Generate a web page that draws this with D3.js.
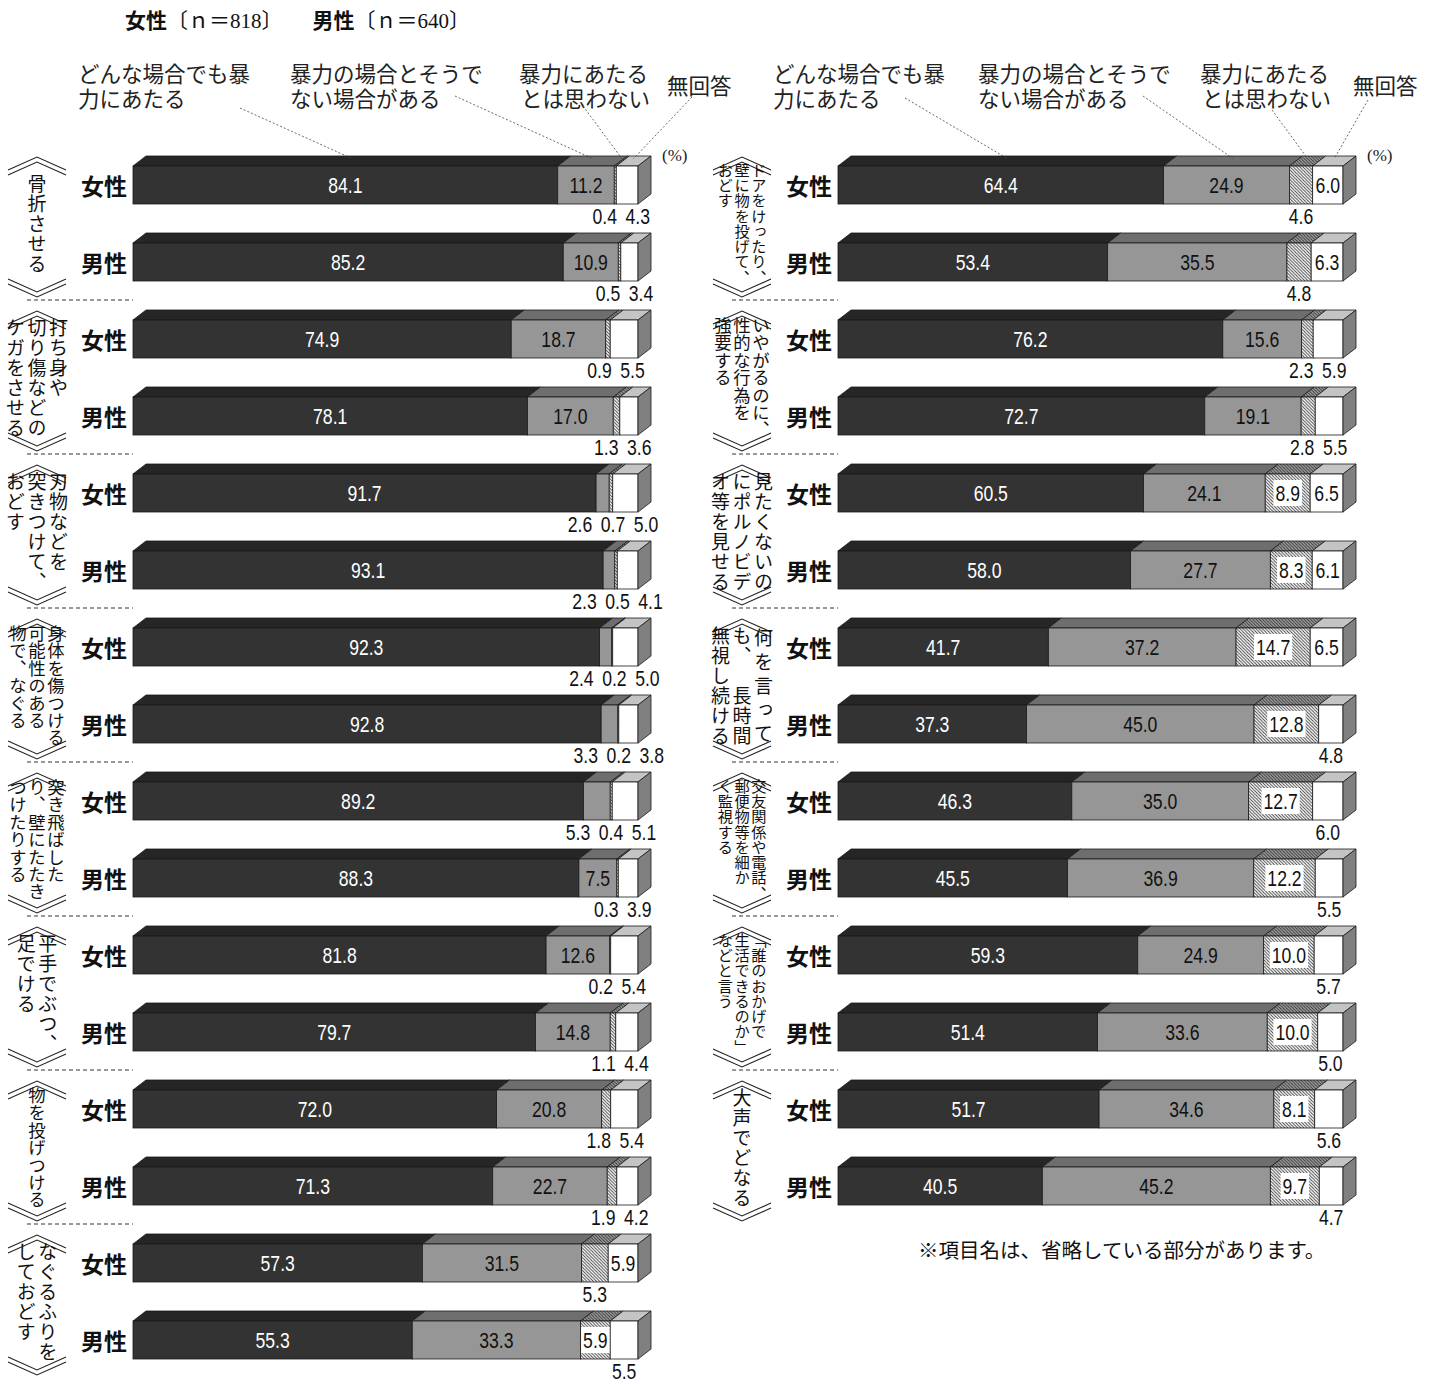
<!DOCTYPE html>
<html><head><meta charset="utf-8">
<script src="https://cdn.jsdelivr.net/npm/d3@7/dist/d3.min.js"></script>
<style>body{margin:0;background:#fff}svg{display:block}</style>
</head><body>
<svg id="chart" width="1431" height="1384"></svg>
<script>
// ---------------- DATA ----------------
const seriesLabels = [["どんな場合でも暴","力にあたる"],["暴力の場合とそうで","ない場合がある"],["暴力にあたる","とは思わない"],["無回答"]];
const genders = ["女性","男性"];
const titleParts = [["女性","〔ｎ＝818〕"],["男性","〔ｎ＝640〕"]];
const footnote = "※項目名は、省略している部分があります。";
const unitLabel = "(%)";

const leftCategories = [
  ["骨折させる"],
  ["打ち身や","切り傷などの","ケガをさせる"],
  ["刃物などを","突きつけて、","おどす"],
  ["身体を傷つける","可能性のある","物で、なぐる"],
  ["突き飛ばした","り、壁にたたき","つけたりする"],
  ["平手でぶつ、","足でける"],
  ["物を投げつける"],
  ["なぐるふりを","しておどす"]
];
const leftWomen = [[84.1,11.2,0.4,4.3],[74.9,18.7,0.9,5.5],[91.7,2.6,0.7,5.0],[92.3,2.4,0.2,5.0],[89.2,5.3,0.4,5.1],[81.8,12.6,0.2,5.4],[72.0,20.8,1.8,5.4],[57.3,31.5,5.3,5.9]];
const leftMen   = [[85.2,10.9,0.5,3.4],[78.1,17.0,1.3,3.6],[93.1,2.3,0.5,4.1],[92.8,3.3,0.2,3.8],[88.3,7.5,0.3,3.9],[79.7,14.8,1.1,4.4],[71.3,22.7,1.9,4.2],[55.3,33.3,5.9,5.5]];
// label placement per segment: i = inside, o = below the bar
const leftWomenPlace = ["iioo","iioo","iooo","iooo","iooo","iioo","iioo","iioi"];
const leftMenPlace   = ["iioo","iioo","iooo","iooo","iioo","iioo","iioo","iiio"];

const rightCategories = [
  ["ドアをけったり、","壁に物を投げて、","おどす"],
  ["いやがるのに、","性的な行為を","強要する"],
  ["見たくないの","にポルノビデ","オ等を見せる"],
  ["~何を言って","も、　長時間","無視し続ける"],
  ["交友関係や電話、","郵便物等を細か","く監視する"],
  ["「誰のおかげで","生活できるのか」","などと言う"],
  ["大声でどなる"]
];
const rightWomen = [[64.4,24.9,4.6,6.0],[76.2,15.6,2.3,5.9],[60.5,24.1,8.9,6.5],[41.7,37.2,14.7,6.5],[46.3,35.0,12.7,6.0],[59.3,24.9,10.0,5.7],[51.7,34.6,8.1,5.6]];
const rightMen   = [[53.4,35.5,4.8,6.3],[72.7,19.1,2.8,5.5],[58.0,27.7,8.3,6.1],[37.3,45.0,12.8,4.8],[45.5,36.9,12.2,5.5],[51.4,33.6,10.0,5.0],[40.5,45.2,9.7,4.7]];
const rightWomenPlace = ["iioi","iioo","iiii","iiii","iiio","iiio","iiio"];
const rightMenPlace   = ["iioi","iioo","iiii","iiio","iiio","iiio","iiio"];

// ---------------- STYLE / LAYOUT ----------------
const W = 1431, H = 1384;
const JP = "'Noto Sans CJK JP','Noto Sans CJK SC',sans-serif";
const NUM = "'Liberation Sans Narrow','Liberation Sans',Arial,sans-serif";
const NUM_SX = 0.8;
const SERIF = "'Liberation Serif','DejaVu Serif','Noto Sans CJK JP',serif";
const BAR_H = 38, DX = 13, DY = 10;
const frontFill = ["#333333","#969696","url(#hatch)","#ffffff"];
const topFill   = ["#262626","#6e6e6e","url(#hatchTop)","#c4c4c4"];
const sideFill = "#808080";

const svg = d3.select("#chart");
svg.append("rect").attr("width",W).attr("height",H).attr("fill","#fff");

const defs = svg.append("defs");
function hatch(id, bg, line){
  const p = defs.append("pattern").attr("id",id).attr("patternUnits","userSpaceOnUse")
    .attr("width",3.2).attr("height",3.2);
  p.append("rect").attr("width",3.2).attr("height",3.2).attr("fill",bg);
  p.append("path").attr("d","M-1,-1L4.2,4.2M-1,2.2L1,4.2M2.2,-1L4.2,1").attr("stroke",line).attr("stroke-width",0.9);
}
hatch("hatch","#ffffff","#3a3a3a");
hatch("hatchTop","#a0a0a0","#333333");

const yRow = d3.scalePoint().domain(d3.range(16)).range([185, 185 + 77*15]);

const panels = [
  {x0:133, cats:leftCategories, w:leftWomen, m:leftMen, wp:leftWomenPlace, mp:leftMenPlace,
   legendX:[-55,157,386,534], legendAnchor:[107,322,450,559], legendAnchorY:[108,96,106,97]},
  {x0:838, cats:rightCategories, w:rightWomen, m:rightMen, wp:rightWomenPlace, mp:rightMenPlace,
   legendX:[-65,140,362,515], legendAnchor:[67,305,434,530], legendAnchorY:[98,96,110,100]}
];

const fmt = d3.format(".1f");

function segments(xs, vals){
  const total = d3.sum(vals);
  let cum = 0;
  return vals.map((v,i)=>{
    const s = {i, v, x0: xs(cum/total*100), x1: xs((cum+v)/total*100)};
    cum += v; return s;
  });
}

function numText(g, x, y, txt, fill){
  return g.append("text").attr("transform",`translate(${x},${y}) scale(${NUM_SX},1)`)
    .attr("text-anchor","middle").attr("dominant-baseline","central")
    .attr("font-family",NUM).attr("font-size",22).attr("fill",fill).text(txt);
}

function drawBar(g, xs, cy, vals, place){
  const segs = segments(xs, vals);
  const top = cy - BAR_H/2, bot = cy + BAR_H/2;
  const bg = g.append("g");
  bg.selectAll("path.top").data(segs).join("path").attr("class","top")
    .attr("d", s=>`M${s.x0},${top}L${s.x0+DX},${top-DY}L${s.x1+DX},${top-DY}L${s.x1},${top}Z`)
    .attr("fill", s=>topFill[s.i]).attr("stroke","#1a1a1a").attr("stroke-width",0.8);
  bg.selectAll("rect.front").data(segs).join("rect").attr("class","front")
    .attr("x", s=>s.x0).attr("y", top).attr("width", s=>Math.max(0.01, s.x1-s.x0)).attr("height", BAR_H)
    .attr("fill", s=>frontFill[s.i]).attr("stroke","#1a1a1a").attr("stroke-width",0.8);
  const xe = xs(100);
  bg.append("path").attr("d",`M${xe},${top}L${xe+DX},${top-DY}L${xe+DX},${bot-DY}L${xe},${bot}Z`)
    .attr("fill",sideFill).attr("stroke","#1a1a1a").attr("stroke-width",0.8);

  segs.forEach(s=>{
    if (place[s.i] !== "i") return;
    const cx = (s.x0+s.x1)/2;
    const t = numText(g, cx, cy, fmt(s.v), s.i===0 ? "#ffffff" : "#111");
    if (s.i===2){
      const bb = t.node().getBBox();
      const w = bb.width*NUM_SX + 4;
      g.insert("rect", () => t.node()).attr("x",cx-w/2).attr("y",cy-13).attr("width",w).attr("height",26).attr("fill","#fff");
    }
  });
  const below = segs.filter(s=>place[s.i]==="o").map(s=>({v:s.v, x:(s.x0+s.x1)/2}));
  if (below.length>1){
    const G = 33;
    let crowded = false;
    for (let k=1;k<below.length;k++) if (below[k].x-below[k-1].x < G) crowded = true;
    if (crowded){
      const mean = d3.mean(below, d=>d.x);
      below.forEach((d,k)=>{ d.x = mean + (k-(below.length-1)/2)*G; });
    }
  }
  below.forEach(d=> numText(g, d.x, cy+31, fmt(d.v), "#111"));
}

function drawCategory(g, cols, cx, gc){
  const clean = cols.map(c=>c.replace(/^~/,""));
  const maxLen = d3.max(clean, c=>[...c].length);
  const step = Math.min(20, 122/maxLen);
  const fs = Math.min(19, step*1.0);
  const gap = step + 1.5;
  const n = cols.length;
  const top = gc - maxLen*step/2;
  cols.forEach((c,j)=>{
    const justify = c.startsWith("~");
    const chars = [...clean[j]];
    const x = cx + ((n-1)/2 - j)*gap;
    const st = justify ? (maxLen*step)/chars.length : step;
    chars.forEach((ch,i)=>{
      if (ch === "　") return;
      g.append("text")
        .attr("x", x).attr("y", top + i*st + (st-fs)/2)
        .style("writing-mode","vertical-rl").style("text-orientation","upright")
        .attr("font-family",JP).attr("font-size",fs).attr("fill","#111")
        .text(ch);
    });
  });
}

function chevrons(g, cx, gc){
  const p = gc - 66.5, t = gc + 73.5, hw = 29;
  const line = d3.line();
  [[0,13],[5,18]].forEach(([a,b])=>{
    g.append("path").attr("d", line([[cx-hw,p+b],[cx,p+a],[cx+hw,p+b]]))
      .attr("fill","none").attr("stroke","#222").attr("stroke-width",1.1);
    g.append("path").attr("d", line([[cx-hw,t-b],[cx,t-a],[cx+hw,t-b]]))
      .attr("fill","none").attr("stroke","#222").attr("stroke-width",1.1);
  });
}

panels.forEach(P=>{
  const xs = d3.scaleLinear().domain([0,100]).range([P.x0, P.x0+505]);
  const g = svg.append("g");
  const catX = P.x0 - 96;
  P.cats.forEach((cols,gi)=>{
    const r1 = yRow(2*gi), r2 = yRow(2*gi+1);
    const gc = (r1+r2)/2;
    chevrons(g, catX, gc);
    drawCategory(g, cols, catX, gc);
    if (gi < P.cats.length-1){
      g.append("line").attr("x1",P.x0-106).attr("x2",P.x0).attr("y1",gc+76.5).attr("y2",gc+76.5)
        .attr("stroke","#333").attr("stroke-width",1).attr("stroke-dasharray","4,3");
    }
    [[r1,P.w[gi],P.wp[gi],genders[0]],[r2,P.m[gi],P.mp[gi],genders[1]]].forEach(([cy,vals,pl,gn])=>{
      g.append("text").attr("x",P.x0-6).attr("y",cy).attr("text-anchor","end")
        .attr("dominant-baseline","central").attr("font-family",JP).attr("font-weight",700)
        .attr("font-size",23).attr("fill","#111").text(gn);
      drawBar(g, xs, cy, vals, pl);
    });
  });
  const segs0 = segments(xs, P.w[0]);
  const topY = yRow(0) - BAR_H/2;
  seriesLabels.forEach((lines,k)=>{
    const tx = P.x0 + P.legendX[k];
    lines.forEach((ln,li)=>{
      g.append("text").attr("x", tx + (k===2 && li===1 ? 2 : 0))
        .attr("y", (lines.length===1 ? 84 : 72 + li*25))
        .attr("dominant-baseline","central")
        .attr("font-family",JP).attr("font-size",21.5).attr("fill","#222").text(ln);
    });
    const s = segs0[k];
    g.append("line").attr("x1",P.x0+P.legendAnchor[k]).attr("y1",P.legendAnchorY[k])
      .attr("x2",(s.x0+s.x1)/2 + DX*0.5).attr("y2",topY - DY*0.75)
      .attr("stroke","#444").attr("stroke-width",0.8).attr("stroke-dasharray","2,2");
  });
  g.append("text").attr("x",P.x0+529).attr("y",155).attr("dominant-baseline","central")
    .attr("font-family",SERIF).attr("font-size",17).attr("fill","#222").text(unitLabel);
});

const title = svg.append("text").attr("x",125).attr("y",28).attr("font-size",21).attr("fill","#111");
titleParts.forEach(([a,b],i)=>{
  title.append("tspan").attr("dx", i ? 30 : 0).attr("font-family",JP).attr("font-weight",700).text(a);
  title.append("tspan").attr("font-family",SERIF).attr("font-size",21).text(b);
});

svg.append("text").attr("x",918).attr("y",1249).attr("dominant-baseline","central")
  .attr("font-family",JP).attr("font-size",20.5).attr("fill","#111").text(footnote);
</script>
</body></html>
